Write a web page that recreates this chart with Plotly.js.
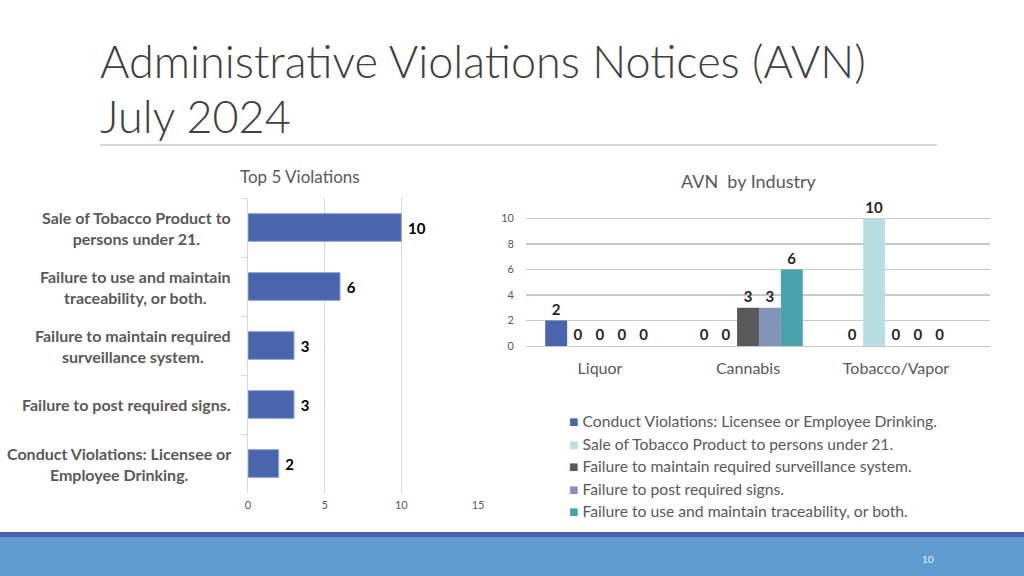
<!DOCTYPE html>
<html>
<head>
<meta charset="utf-8">
<script src="https://cdn.plot.ly/plotly-3.0.1.min.js"></script>
<style>
  html, body { margin: 0; padding: 0; background: #fff; }
  #chart { width: 1024px; height: 576px; }
</style>
</head>
<body>
<div id="chart"></div>
<script>
// --- Top 5 violations (left chart) ---
const violationLabels = [
    'Sale of Tobacco Product to<br>persons under 21.',
    'Failure to use and maintain<br>traceability, or both.',
    'Failure to maintain required<br>surveillance system.',
    'Failure to post required signs.',
    'Conduct Violations: Licensee or<br>Employee Drinking.'
];
const violationCounts = [10, 6, 3, 3, 2];

// --- AVN by industry (right chart) ---
const industries = ['Liquor', 'Cannabis', 'Tobacco/Vapor'];
const seriesNames = [
    'Conduct Violations: Licensee or Employee Drinking.',
    'Sale of Tobacco Product to persons under 21.',
    'Failure to maintain required surveillance system.',
    'Failure to post required signs.',
    'Failure to use and maintain traceability, or both.'
];
const conductDrinking = [2, 0, 0];
const saleUnder21 = [0, 0, 10];
const surveillance = [0, 3, 0];
const postSigns = [0, 3, 0];
const traceability = [0, 6, 0];
const seriesColors = ['#4a65b0', '#b9dee2', '#595959', '#8394b6', '#4aa2ac'];

const FONT = 'Lato, "Open Sans", sans-serif';
const GREY = '#595959';

// px helpers for a 1024x576 page
const px = v => v / 1024;
const py = v => 1 - v / 576;

const traces = [{
    type: 'bar',
    orientation: 'h',
    x: violationCounts,
    y: violationLabels,
    xaxis: 'x',
    yaxis: 'y',
    width: 0.47,
    marker: { color: '#4a65ae', line: { color: '#8ea4d6', width: 1 } },
    text: violationCounts.map(v => ' ' + v),
    textposition: 'outside',
    textfont: { family: FONT, size: 15, color: '#000', weight: 'bold' },
    cliponaxis: false,
    showlegend: false,
    hoverinfo: 'x+y'
}];

[conductDrinking, saleUnder21, surveillance, postSigns, traceability].forEach((vals, i) => {
    traces.push({
        type: 'bar',
        x: industries,
        y: vals,
        name: seriesNames[i],
        xaxis: 'x2',
        yaxis: 'y2',
        marker: { color: seriesColors[i] },
        text: vals.map(String),
        textposition: 'outside',
        textfont: { family: FONT, size: 15, color: '#262626', weight: 'bold' },
        cliponaxis: false,
        showlegend: false
    });
});

// category labels on the left, centred lines, right edge at the axis
const labelNotes = violationLabels.map(l => ({
    text: '<b>' + l + '</b>',
    xref: 'paper', yref: 'y',
    x: px(233), y: l,
    xanchor: 'right', yanchor: 'middle',
    align: 'center',
    showarrow: false,
    font: { family: FONT, size: 16, color: GREY }
}));

// legend for the right chart, built as text rows
const legendNotes = seriesNames.map((name, i) => ({
    text: '<span style="color:' + seriesColors[i] + '">■</span> ' + name,
    xref: 'paper', yref: 'paper',
    x: px(567), y: py(421 + i * 22.5),
    xanchor: 'left', yanchor: 'middle',
    showarrow: false,
    font: { family: FONT, size: 15.7, color: GREY }
}));

const layout = {
    width: 1024,
    height: 576,
    margin: { l: 0, r: 0, t: 0, b: 0 },
    paper_bgcolor: '#fff',
    plot_bgcolor: 'rgba(0,0,0,0)',
    font: { family: FONT, color: GREY },
    barmode: 'group',
    bargap: 0.26,
    bargroupgap: 0,
    showlegend: false,
    xaxis: {
        domain: [px(248), px(478)],
        anchor: 'y',
        range: [0, 15],
        dtick: 5,
        showgrid: true,
        gridcolor: '#d9d9d9',
        zeroline: false,
        tickfont: { size: 11, color: GREY },
        ticklabelstandoff: 4,
        fixedrange: true
    },
    yaxis: {
        domain: [py(493), py(198)],
        anchor: 'x',
        autorange: 'reversed',
        showline: true,
        linecolor: '#d9d9d9',
        ticks: 'outside',
        tickson: 'boundaries',
        ticklen: 6,
        tickcolor: '#d9d9d9',
        showticklabels: false,
        fixedrange: true
    },
    xaxis2: {
        domain: [px(526), px(990)],
        anchor: 'y2',
        range: [-0.5, 2.635],
        tickfont: { size: 16, color: GREY },
        ticklabelstandoff: 11,
        showline: false,
        fixedrange: true
    },
    yaxis2: {
        domain: [py(346), py(216)],
        anchor: 'x2',
        range: [0, 10.2],
        tickvals: [0, 2, 4, 6, 8, 10],
        showgrid: true,
        gridcolor: '#c8c8c8',
        gridwidth: 1.5,
        zeroline: true,
        zerolinecolor: '#c8c8c8',
        tickfont: { size: 11, color: GREY },
        ticklabelstandoff: 11,
        fixedrange: true
    },
    annotations: [
        {
            text: 'Administrative Violations Notices (AVN)',
            xref: 'paper', yref: 'paper',
            x: px(98), y: py(61),
            xanchor: 'left', yanchor: 'middle',
            showarrow: false,
            font: { family: FONT, size: 45, color: '#404040', weight: 300 }
        },
        {
            text: 'July 2024',
            xref: 'paper', yref: 'paper',
            x: px(98), y: py(116),
            xanchor: 'left', yanchor: 'middle',
            showarrow: false,
            font: { family: FONT, size: 45, color: '#404040', weight: 300 }
        },
        {
            text: 'Top 5 Violations',
            xref: 'paper', yref: 'paper',
            x: px(300), y: py(176),
            xanchor: 'center', yanchor: 'middle',
            showarrow: false,
            font: { family: FONT, size: 17, color: GREY }
        },
        {
            text: 'AVN  by Industry',
            xref: 'paper', yref: 'paper',
            x: px(749), y: py(181),
            xanchor: 'center', yanchor: 'middle',
            showarrow: false,
            font: { family: FONT, size: 18, color: GREY }
        },
        {
            text: '10',
            xref: 'paper', yref: 'paper',
            x: px(928), y: py(559),
            xanchor: 'center', yanchor: 'middle',
            showarrow: false,
            font: { family: FONT, size: 10, color: '#e8f0fa' }
        }
    ].concat(labelNotes, legendNotes),
    shapes: [
        { type: 'line', xref: 'paper', yref: 'paper', x0: px(100), x1: px(937), y0: py(145), y1: py(145),
          line: { color: '#d9d9d9', width: 2 } },
        { type: 'rect', xref: 'paper', yref: 'paper', x0: 0, x1: 1, y0: py(537), y1: py(532),
          fillcolor: '#4a63b0', line: { width: 0 } },
        { type: 'rect', xref: 'paper', yref: 'paper', x0: 0, x1: 1, y0: 0, y1: py(537),
          fillcolor: '#5f9bcf', line: { width: 0 } }
    ]
};

Plotly.newPlot('chart', traces, layout, { displayModeBar: false, staticPlot: true });
</script>
</body>
</html>
